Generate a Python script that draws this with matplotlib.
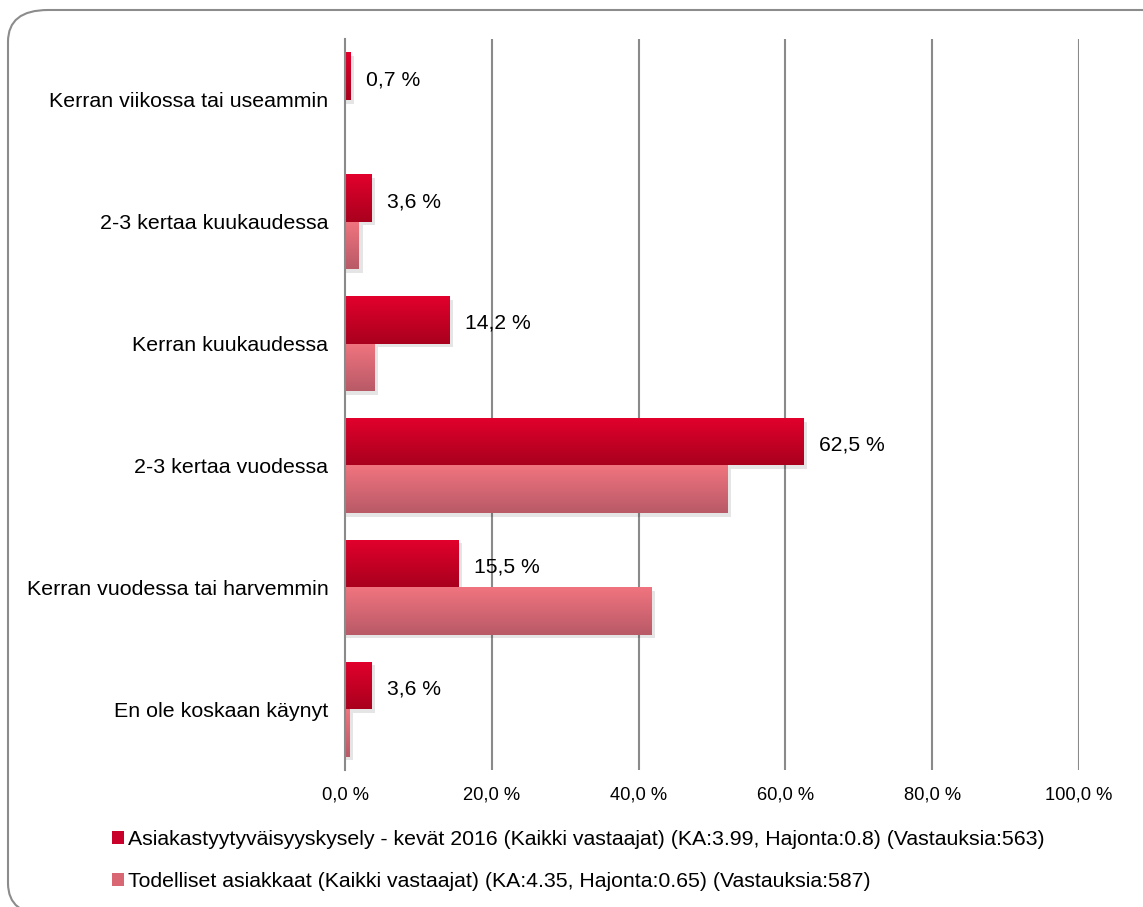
import matplotlib
matplotlib.use("Agg")
import matplotlib.pyplot as plt
import numpy as np
from matplotlib.patches import FancyBboxPatch, Rectangle
from matplotlib.colors import LinearSegmentedColormap

plt.rcParams['font.family'] = ['Liberation Sans', 'DejaVu Sans']

categories = ["Kerran viikossa tai useammin", "2-3 kertaa kuukaudessa", "Kerran kuukaudessa",
              "2-3 kertaa vuodessa", "Kerran vuodessa tai harvemmin", "En ole koskaan käynyt"]
series1 = [0.7, 3.6, 14.2, 62.5, 15.5, 3.6]
series2 = [0.0, 1.9, 4.0, 52.1, 41.8, 0.6]
series_names = ["Asiakastyytyväisyyskysely - kevät 2016 (Kaikki vastaajat) (KA:3.99, Hajonta:0.8) (Vastauksia:563)",
                "Todelliset asiakkaat (Kaikki vastaajat) (KA:4.35, Hajonta:0.65) (Vastauksia:587)"]
xticks = [0, 20, 40, 60, 80, 100]
xticklabels = ["0,0 %", "20,0 %", "40,0 %", "60,0 %", "80,0 %", "100,0 %"]

fig = plt.figure(figsize=(11.43, 9.07), dpi=100)
# outer rounded border
border = FancyBboxPatch((8/1143, 1 - 915/907), 1.2, (915-10)/907,
                        boxstyle="round,pad=0,rounding_size=0.035",
                        transform=fig.transFigure, fill=False, edgecolor="#8c8c8c", linewidth=1.5)
fig.patches.append(border)

ax = fig.add_axes([345/1143, 1 - 770/907, (1079-345)/1143, (770-39)/907])
ax.set_xlim(0, 100)
ax.set_ylim(len(categories) - 0.5, -0.5)

h = 0.39
cmap1 = LinearSegmentedColormap.from_list("c1", ["#e2002c", "#a9001e"])
cmap2 = LinearSegmentedColormap.from_list("c2", ["#f0747f", "#b95a67"])
grad = np.linspace(0, 1, 64).reshape(-1, 1)

ypos = np.arange(len(categories))
for i, (v1, v2) in enumerate(zip(series1, series2)):
    for v, y0, cm in ((v1, i - h, cmap1), (v2, i, cmap2)):
        if v <= 0:
            continue
        # shadow
        ax.add_patch(Rectangle((0, y0 + 0.03), v + 0.5, h, facecolor="#000000", alpha=0.10,
                               edgecolor="none", zorder=2))
        r = Rectangle((0, y0), v, h, facecolor="none", edgecolor="none", zorder=3)
        ax.add_patch(r)
        im = ax.imshow(grad, cmap=cm, aspect="auto", extent=(0, v, y0 + h, y0), zorder=3,
                       interpolation="bilinear")
        im.set_clip_path(r)
    ax.text(v1 + 2.1, i - h / 2 + 0.03, f"{v1:.1f} %".replace(".", ","), va="center", ha="left",
            fontsize=15.2, color="#000000", zorder=4)

ax.set_xlim(0, 100)
ax.set_ylim(len(categories) - 0.5, -0.5)
ax.set_xticks(xticks)
ax.set_xticklabels(xticklabels, fontsize=13.2)
ax.set_yticks(ypos)
ax.set_yticklabels(categories, fontsize=15.4)
ax.tick_params(axis="x", length=0, pad=12)
ax.tick_params(axis="y", length=0, pad=12)
for x in xticks[1:]:
    ax.axvline(x, color="#8a8a8a", linewidth=1.5, zorder=1)
for s in ["top", "right", "bottom"]:
    ax.spines[s].set_visible(False)
ax.spines["left"].set_color("#8a8a8a")
ax.spines["left"].set_linewidth(1.5)
ax.spines["left"].set_zorder(5)

# legend
handles = [Rectangle((0, 0), 1, 1, facecolor="#c8002a"), Rectangle((0, 0), 1, 1, facecolor="#d96673")]
leg = fig.legend(handles, series_names, loc="upper left", bbox_to_anchor=(112/1143, 1 - 830/907),
                 frameon=False, fontsize=15.3, handlelength=0.55, handleheight=0.55, handletextpad=0.2,
                 labelspacing=1.1, borderaxespad=0, borderpad=0)

fig.savefig("out.png", dpi=100)
